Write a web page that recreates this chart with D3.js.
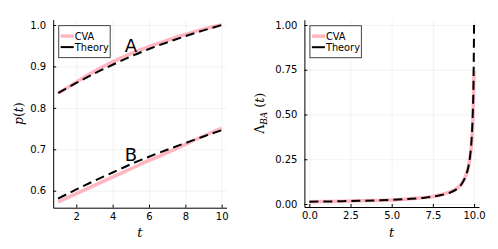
<!DOCTYPE html>
<html>
<head>
<meta charset="utf-8">
<script src="https://cdn.jsdelivr.net/npm/d3@7"></script>
<style>
  body { margin: 0; background: #fff; }
  svg { display: block; }
  .tick text { font-family: "DejaVu Sans", sans-serif; font-size: 10px; fill: #000; }
</style>
</head>
<body>
<div id="chart"></div>
<script>
// left panel: p(t) for A and B
const tLeft = [1, 2, 3, 4, 5, 6, 7, 8, 9, 10]
const cvaA = [0.835, 0.862, 0.888, 0.911, 0.931, 0.948, 0.963, 0.977, 0.990, 1.000]
const theoryA = [0.836, 0.860, 0.883, 0.904, 0.924, 0.942, 0.958, 0.973, 0.987, 1.000]
const cvaB = [0.573, 0.593, 0.613, 0.633, 0.653, 0.673, 0.692, 0.712, 0.732, 0.751]
const theoryB = [0.581, 0.603, 0.624, 0.644, 0.664, 0.682, 0.699, 0.715, 0.731, 0.746]
const notes = [{label: "A", t: 5, v: 0.95}, {label: "B", t: 5, v: 0.687}]

// right panel: Lambda_BA(t)
const tRight = [0, 1, 2, 3, 4, 5, 6, 7, 7.5, 8, 8.5, 9, 9.25, 9.5, 9.65, 9.75, 9.85, 9.92, 9.97, 10]
const cvaL = [0.013, 0.014, 0.016, 0.018, 0.020, 0.023, 0.028, 0.036, 0.042, 0.052, 0.066, 0.090, 0.115, 0.160, 0.205, 0.255, 0.340, 0.450, 0.600, 0.745]
const theoryL = [0.013, 0.014, 0.016, 0.018, 0.020, 0.023, 0.028, 0.035, 0.041, 0.050, 0.062, 0.087, 0.112, 0.158, 0.205, 0.260, 0.360, 0.500, 0.700, 1.000]

const xTicksL = [2, 4, 6, 8, 10], yTicksL = [0.6, 0.7, 0.8, 0.9, 1.0]
const xTicksR = [0, 2.5, 5, 7.5, 10], yTicksR = [0, 0.25, 0.5, 0.75, 1.0]

const PINK = "#ffb6c1"

const svg = d3.select("#chart").append("svg")
    .attr("width", 498).attr("height", 249)

function panel(opts) {
  const g = svg.append("g")
  const x = d3.scaleLinear().domain(opts.xd).range([opts.left, opts.right])
  const y = d3.scaleLinear().domain(opts.yd).range([opts.bottom, opts.top])
  const w = opts.right - opts.left, h = opts.bottom - opts.top

  // grid
  g.append("g").attr("transform", `translate(0,${opts.bottom})`)
    .call(d3.axisBottom(x).tickValues(opts.xt).tickSize(-h).tickFormat(""))
    .call(a => a.select(".domain").remove())
    .call(a => a.selectAll("line").attr("stroke", "#000").attr("stroke-opacity", 0.1).attr("stroke-width", 0.5))
  g.append("g").attr("transform", `translate(${opts.left},0)`)
    .call(d3.axisLeft(y).tickValues(opts.yt).tickSize(-w).tickFormat(""))
    .call(a => a.select(".domain").remove())
    .call(a => a.selectAll("line").attr("stroke", "#000").attr("stroke-opacity", 0.1).attr("stroke-width", 0.5))

  // axes
  g.append("g").attr("transform", `translate(0,${opts.bottom})`)
    .call(d3.axisBottom(x).tickValues(opts.xt).tickFormat(opts.xf).tickSizeInner(-3).tickSizeOuter(0).tickPadding(5))
    .call(a => a.selectAll("path,line").attr("stroke", "#000").attr("stroke-width", 1))
  g.append("g").attr("transform", `translate(${opts.left},0)`)
    .call(d3.axisLeft(y).tickValues(opts.yt).tickFormat(opts.yf).tickSizeInner(-3).tickSizeOuter(0).tickPadding(7))
    .call(a => a.selectAll("path,line").attr("stroke", "#000").attr("stroke-width", 1))

  const line = d3.line().x(d => x(d[0])).y(d => y(d[1])).curve(d3.curveMonotoneX)
  opts.series.forEach(s => {
    const pts = s.t.map((t, i) => [t, s.v[i]])
    g.append("path").attr("d", line(pts)).attr("fill", "none")
      .attr("stroke", s.theory ? "#000" : PINK)
      .attr("stroke-width", s.theory ? 2 : 3.5)
      .attr("stroke-dasharray", s.theory ? "9,5" : null)
  })

  // legend
  const lx = opts.left + 5.5, ly = opts.top + 6
  const leg = g.append("g").attr("transform", `translate(${lx},${ly})`)
  leg.append("rect").attr("width", 51.5).attr("height", 32)
    .attr("fill", "#fff").attr("stroke", "#444").attr("stroke-width", 1)
  ;[["CVA", false], ["Theory", true]].forEach((e, i) => {
    const yy = 10.5 + i * 11
    leg.append("line").attr("x1", 2).attr("x2", 15).attr("y1", yy).attr("y2", yy)
      .attr("stroke", e[1] ? "#000" : PINK).attr("stroke-width", e[1] ? 2 : 3.5)
    leg.append("text").attr("x", 16).attr("y", yy).attr("dy", "0.35em")
      .attr("font-family", "DejaVu Sans, sans-serif").attr("font-size", 9.8).text(e[0])
  })

  // axis labels
  g.append("text").attr("x", (opts.left + opts.right) / 2).attr("y", 237)
    .attr("text-anchor", "middle").attr("font-family", "DejaVu Serif, serif")
    .attr("font-style", "italic").attr("font-size", 13).text("t")
  const yl = g.append("text")
    .attr("transform", `translate(${opts.ylx},${(opts.top + opts.bottom) / 2}) rotate(-90)`)
    .attr("text-anchor", "middle").attr("font-family", "DejaVu Serif, serif").attr("font-size", 12.5)
  opts.ylabel(yl)
  return {g, x, y}
}

const L = panel({
  left: 53.2, right: 226.6, top: 19.6, bottom: 207.7,
  xd: [0.73, 10.27], yd: [0.559, 1.013],
  xt: xTicksL, yt: yTicksL, xf: d3.format("d"), yf: d3.format(".1f"),
  ylx: 23,
  series: [
    {t: tLeft, v: cvaA}, {t: tLeft, v: theoryA, theory: true},
    {t: tLeft, v: cvaB}, {t: tLeft, v: theoryB, theory: true}
  ],
  ylabel: el => {
    el.append("tspan").attr("font-style", "italic").text("p")
    el.append("tspan").text("(")
    el.append("tspan").attr("font-style", "italic").text("t")
    el.append("tspan").text(")")
  }
})
L.g.selectAll(".note").data(notes).join("text")
  .attr("x", d => L.x(d.t)).attr("y", d => L.y(d.v)).attr("dy", "0.36em")
  .attr("text-anchor", "middle").attr("font-family", "DejaVu Sans, sans-serif")
  .attr("font-size", 18).text(d => d.label)

panel({
  left: 304.4, right: 479, top: 19.7, bottom: 207,
  xd: [-0.3, 10.3], yd: [-0.0167, 1.0296],
  xt: xTicksR, yt: yTicksR, xf: d3.format(".1f"), yf: d3.format(".2f"),
  ylx: 264,
  series: [{t: tRight, v: cvaL}, {t: tRight, v: theoryL, theory: true}],
  ylabel: el => {
    el.append("tspan").text("Λ")
    el.append("tspan").attr("font-style", "italic").attr("font-size", 9).attr("dy", 3).text("BA")
    el.append("tspan").attr("dy", -3).text(" (")
    el.append("tspan").attr("font-style", "italic").text("t")
    el.append("tspan").text(")")
  }
})
</script>
</body>
</html>
